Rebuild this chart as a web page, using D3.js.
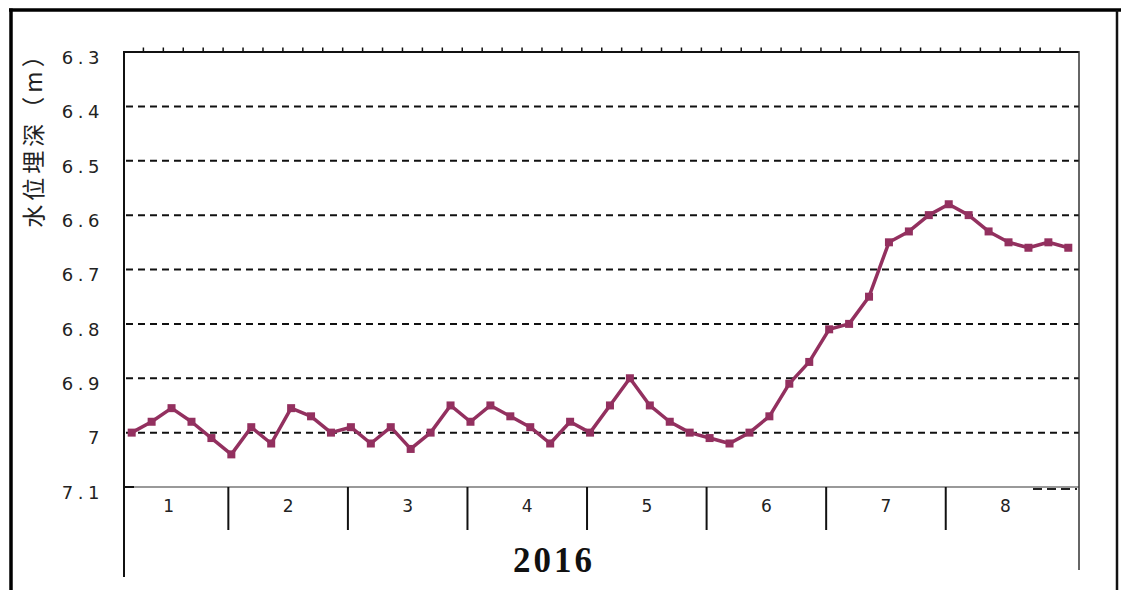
<!DOCTYPE html>
<html>
<head>
<meta charset="utf-8">
<script src="https://cdn.jsdelivr.net/npm/d3@7"></script>
<style>
  html, body { margin: 0; padding: 0; background: #fff; }
  svg { display: block; }
</style>
</head>
<body>
<svg id="chart" width="1121" height="590"></svg>
<script>
// Observation dates (every 5 days, 2016)
const dates = [
  "2016-01-06", "2016-01-11", "2016-01-16", "2016-01-21", "2016-01-26",
  "2016-02-01", "2016-02-06", "2016-02-11", "2016-02-16", "2016-02-21", "2016-02-26",
  "2016-03-01", "2016-03-06", "2016-03-11", "2016-03-16", "2016-03-21", "2016-03-26",
  "2016-04-01", "2016-04-06", "2016-04-11", "2016-04-16", "2016-04-21", "2016-04-26",
  "2016-05-01", "2016-05-06", "2016-05-11", "2016-05-16", "2016-05-21", "2016-05-26",
  "2016-06-01", "2016-06-06", "2016-06-11", "2016-06-16", "2016-06-21", "2016-06-26",
  "2016-07-01", "2016-07-06", "2016-07-11", "2016-07-16", "2016-07-21", "2016-07-26",
  "2016-08-01", "2016-08-06", "2016-08-11", "2016-08-16", "2016-08-21", "2016-08-26",
  "2016-09-01"
];

// Groundwater depth below surface (m)
const depth = [
  7.00, 6.98, 6.955, 6.98, 7.01,
  7.04, 6.99, 7.02, 6.955, 6.97, 7.00,
  6.99, 7.02, 6.99, 7.03, 7.00, 6.95,
  6.98, 6.95, 6.97, 6.99, 7.02, 6.98,
  7.00, 6.95, 6.90, 6.95, 6.98, 7.00,
  7.01, 7.02, 7.00, 6.97, 6.91, 6.87,
  6.81, 6.80, 6.75, 6.65, 6.63, 6.60,
  6.58, 6.60, 6.63, 6.65, 6.66, 6.65,
  6.66
];

const yTickValues = [6.3, 6.4, 6.5, 6.6, 6.7, 6.8, 6.9, 7.0, 7.1];
const yTickLabels = ["6.3", "6.4", "6.5", "6.6", "6.7", "6.8", "6.9", "7", "7.1"];
const monthLabels = ["1", "2", "3", "4", "5", "6", "7", "8"];
const yearLabel = "2016";
const yTitle = "水位埋深（m）";

const lineColor = "#93305f";

const svg = d3.select("#chart");

// Plot area
const plotL = 124, plotR = 1079, plotT = 52, plotB = 487;

const x = d3.scalePoint().domain(dates).range([131.7, 1068.3]);
const step = x.step();
const y = d3.scaleLinear().domain([6.3, 7.1]).range([plotT, plotB]);

// Outer frame
svg.append("line").attr("x1", 11).attr("x2", 11).attr("y1", 8.5).attr("y2", 600)
  .attr("stroke", "#000").attr("stroke-width", 3.5);
svg.append("line").attr("x1", 9).attr("x2", 1121).attr("y1", 10).attr("y2", 10)
  .attr("stroke", "#000").attr("stroke-width", 3.5);
svg.append("line").attr("x1", 1117).attr("x2", 1117).attr("y1", 10).attr("y2", 600)
  .attr("stroke", "#111").attr("stroke-width", 2.5);

// Y labels
const yAxis = d3.axisLeft(y)
  .tickValues(yTickValues)
  .tickSize(0)
  .tickFormat((d, i) => yTickLabels[i]);

const gy = svg.append("g").attr("transform", `translate(${plotL},0)`).call(yAxis);
gy.select(".domain").remove();
gy.selectAll("text")
  .attr("x", -20)
  .attr("y", 5)
  .attr("dy", "0.35em")
  .style("font-family", "'DejaVu Sans', sans-serif")
  .style("font-size", "18px")
  .style("letter-spacing", "4.5px")
  .attr("fill", "#222");

// Horizontal dashed gridlines
svg.append("g").selectAll("line")
  .data(yTickValues.filter(v => v > 6.3 && v < 7.1))
  .join("line")
  .attr("x1", plotL + 2).attr("x2", plotR)
  .attr("y1", d => y(d)).attr("y2", d => y(d))
  .attr("stroke", "#111").attr("stroke-width", 2)
  .attr("stroke-dasharray", "7,5");

// Top axis with small ticks
svg.append("line").attr("x1", plotL).attr("x2", plotR).attr("y1", plotT).attr("y2", plotT)
  .attr("stroke", "#111").attr("stroke-width", 2);
svg.append("g").selectAll("line")
  .data(dates.slice(0, dates.length - 1))
  .join("line")
  .attr("x1", d => x(d) + 11.7).attr("x2", d => x(d) + 11.7)
  .attr("y1", plotT).attr("y2", plotT - 4.5)
  .attr("stroke", "#111").attr("stroke-width", 1.5);

// Bottom axis line
svg.append("line").attr("x1", plotL).attr("x2", plotR).attr("y1", plotB).attr("y2", plotB)
  .attr("stroke", "#777").attr("stroke-width", 1.5);
svg.append("line").attr("x1", plotL).attr("x2", plotL + 10).attr("y1", plotB).attr("y2", plotB)
  .attr("stroke", "#111").attr("stroke-width", 2);
svg.append("line").attr("x1", 1033).attr("x2", plotR - 2).attr("y1", plotB + 2).attr("y2", plotB + 2)
  .attr("stroke", "#222").attr("stroke-width", 2).attr("stroke-dasharray", "9,5");

// Left and right plot edges
svg.append("line").attr("x1", plotL).attr("x2", plotL).attr("y1", plotT - 1).attr("y2", 577)
  .attr("stroke", "#111").attr("stroke-width", 2);
svg.append("line").attr("x1", plotR).attr("x2", plotR).attr("y1", plotT - 1).attr("y2", 570)
  .attr("stroke", "#333").attr("stroke-width", 1.5);

// Month boundaries: the first observation of each month
const monthStarts = dates
  .filter(d => d.endsWith("-01"))
  .map(d => x(d) - 3);
const bounds = [monthStarts[0] - 6 * step].concat(monthStarts);

svg.append("g").selectAll("line")
  .data(monthStarts.slice(0, monthLabels.length - 1))
  .join("line")
  .attr("x1", d => d).attr("x2", d => d)
  .attr("y1", plotB).attr("y2", 530)
  .attr("stroke", "#111").attr("stroke-width", 2);

svg.append("g").selectAll("text")
  .data(monthLabels)
  .join("text")
  .attr("x", (d, i) => (bounds[i] + bounds[i + 1]) / 2)
  .attr("y", 512)
  .attr("text-anchor", "middle")
  .style("font-family", "'DejaVu Sans', sans-serif")
  .style("font-size", "17px")
  .attr("fill", "#222")
  .text(d => d);

// Year label
svg.append("text")
  .attr("x", 554).attr("y", 572)
  .attr("text-anchor", "middle")
  .style("font-family", "'Liberation Serif', serif")
  .style("font-weight", "bold")
  .style("font-size", "35px")
  .style("letter-spacing", "3px")
  .attr("fill", "#111")
  .text(yearLabel);

// Y axis title
svg.append("text")
  .attr("transform", "translate(42,134) rotate(-90)")
  .attr("text-anchor", "middle")
  .style("font-family", "'Noto Sans CJK SC', sans-serif")
  .style("font-size", "23px")
  .style("letter-spacing", "4px")
  .attr("fill", "#222")
  .text(yTitle);

// Series line and markers
const line = d3.line()
  .x((d, i) => x(dates[i]))
  .y(d => y(d));

svg.append("path")
  .datum(depth)
  .attr("d", line)
  .attr("fill", "none")
  .attr("stroke", lineColor)
  .attr("stroke-width", 3.5)
  .attr("stroke-linejoin", "round");

svg.append("g").selectAll("rect")
  .data(depth)
  .join("rect")
  .attr("x", (d, i) => x(dates[i]) - 4)
  .attr("y", d => y(d) - 4)
  .attr("width", 8).attr("height", 8)
  .attr("fill", lineColor);
</script>
</body>
</html>
